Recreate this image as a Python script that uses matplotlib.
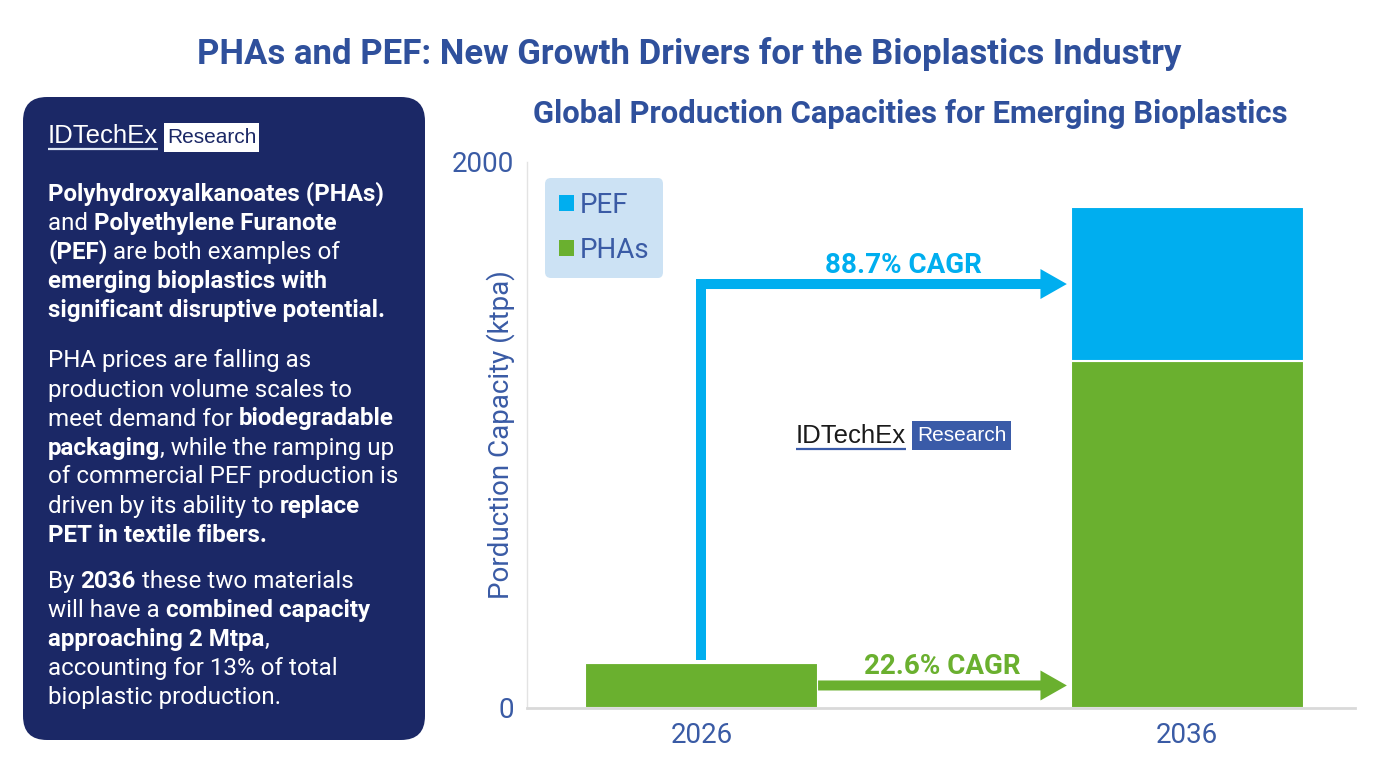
import numpy as np
import matplotlib.pyplot as plt
from matplotlib.patches import FancyBboxPatch, Rectangle, Patch

plt.rcParams['font.family'] = ['Roboto', 'DejaVu Sans']

# --- data ---
years = ["2026", "2036"]
phas = [165, 1271]      # ktpa
pef = [1, 564]          # ktpa
series = ["PHAs", "PEF"]
cagr_pef = "88.7% CAGR"
cagr_phas = "22.6% CAGR"
yticks = [0, 2000]

title = "PHAs and PEF: New Growth Drivers for the Bioplastics Industry"
subtitle = "Global Production Capacities for Emerging Bioplastics"
ylabel = "Porduction Capacity (ktpa)"

# panel text: paragraphs of lines, each line a list of (text, bold)
panel_paragraphs = [
    [
        [("Polyhydroxyalkanoates (PHAs)", True)],
        [("and ", False), ("Polyethylene Furanote", True)],
        [("(PEF)", True), (" are both examples of", False)],
        [("emerging bioplastics with", True)],
        [("significant disruptive potential.", True)],
    ],
    [
        [("PHA prices are falling as", False)],
        [("production volume scales to", False)],
        [("meet demand for ", False), ("biodegradable", True)],
        [("packaging", True), (", while the ramping up", False)],
        [("of commercial PEF production is", False)],
        [("driven by its ability to ", False), ("replace", True)],
        [("PET in textile fibers.", True)],
    ],
    [
        [("By ", False), ("2036", True), (" these two materials", False)],
        [("will have a ", False), ("combined capacity", True)],
        [("approaching 2 Mtpa", True), (",", False)],
        [("accounting for 13% of total", False)],
        [("bioplastic production.", False)],
    ],
]

# --- colours ---
NAVY = "#1B2866"
TITLE_BLUE = "#2F509C"
TEXT_BLUE = "#3A5BA5"
PEF_BLUE = "#00AEEF"
PHA_GREEN = "#6AB02F"
LEGEND_BG = "#CCE2F4"
LOGO_BLUE = "#3A5BA8"

W, H = 1378, 776
fig = plt.figure(figsize=(W / 100, H / 100), dpi=100)

# --- chart ---
ax = fig.add_axes([527 / W, 1 - 708 / H, 828 / W, 546 / H])
x = np.arange(len(years))
bw = 0.48
ax.bar(x, phas, bw, color=PHA_GREEN, edgecolor="white", linewidth=1.5)
ax.bar(x, pef, bw, bottom=phas, color=PEF_BLUE, edgecolor="white", linewidth=1.5)

ax.set_xlim(-0.359, 1.345)
ax.set_ylim(0, 2000)
ax.set_yticks(yticks)
ax.set_xticks(x, years)
ax.tick_params(length=0, labelsize=20, labelcolor=TEXT_BLUE)
ax.tick_params(axis="y", pad=9)
ax.tick_params(axis="x", pad=10)
for side in ["top", "right"]:
    ax.spines[side].set_visible(False)
ax.spines["left"].set_color("#E3E3E3")
ax.spines["left"].set_linewidth(1)
ax.spines["bottom"].set_color("#D9D9D9")
ax.spines["bottom"].set_linewidth(2)
ax.set_ylabel(ylabel, fontsize=20, color=TEXT_BLUE)
ax.yaxis.set_label_coords(-0.015, 0.5)

handles = [Patch(facecolor=PEF_BLUE), Patch(facecolor=PHA_GREEN)]
leg = ax.legend(handles, [series[1], series[0]], loc="upper left",
                bbox_to_anchor=(18 / 828, 1 - 16 / 546), borderaxespad=0,
                fontsize=20, labelcolor=TEXT_BLUE, handlelength=0.55, handleheight=0.55,
                handletextpad=0.2, labelspacing=0.65, borderpad=0.5,
                facecolor=LEGEND_BG, edgecolor="none", framealpha=1, fancybox=True)

# arrows
tip = x[1] - bw / 2 - 0.008
lw_pt = 7.2
style = "simple,head_length=19,head_width=21.6,tail_width=7.2"

y_g = phas[0] / 2
ax.annotate("", xy=(tip, y_g), xytext=(x[0] + bw / 2, y_g),
            arrowprops=dict(arrowstyle=style, mutation_scale=1, color=PHA_GREEN, lw=0,
                            shrinkA=0, shrinkB=0))
ax.annotate(cagr_phas, xy=((x[0] + bw / 2 + tip) / 2, y_g), xytext=(0, 8),
            textcoords="offset points", ha="center", va="baseline",
            fontsize=20, fontweight="bold", color=PHA_GREEN)

y_b = phas[1] + pef[1] / 2
ax.plot([x[0], x[0], tip - 0.1], [phas[0] + 12, y_b, y_b], color=PEF_BLUE, lw=lw_pt,
        solid_joinstyle="miter", solid_capstyle="butt")
ax.annotate("", xy=(tip, y_b), xytext=(x[0], y_b),
            arrowprops=dict(arrowstyle=style, mutation_scale=1, color=PEF_BLUE, lw=0,
                            shrinkA=0, shrinkB=0))
ax.annotate(cagr_pef, xy=(0.415, y_b), xytext=(0, 8),
            textcoords="offset points", ha="center", va="baseline",
            fontsize=20, fontweight="bold", color=PEF_BLUE)

# --- overlay in pixel coordinates ---
ov = fig.add_axes([0, 0, 1, 1])
ov.set_xlim(0, W)
ov.set_ylim(H, 0)
ov.axis("off")
rend = fig.canvas.get_renderer()


def text_width(s, **kw):
    t = ov.text(0, 0, s + ".", **kw)
    w1 = t.get_window_extent(rend).width
    t.set_text(".")
    w2 = t.get_window_extent(rend).width
    t.remove()
    return w1 - w2


ov.text(689, 64, title, ha="center", va="baseline", fontsize=25,
        fontweight="bold", color=TITLE_BLUE)
ov.text(910, 123, subtitle, ha="center", va="baseline", fontsize=22.3,
        fontweight="bold", color=TITLE_BLUE)

# left panel
ov.add_patch(FancyBboxPatch((23, 97), 402, 643, boxstyle="round,pad=0,rounding_size=24",
                            facecolor=NAVY, edgecolor="none"))

para_starts = [201, 367.5, 588]
line_gap = 29
fs = 17.4
for start, para in zip(para_starts, panel_paragraphs):
    for i, runs in enumerate(para):
        xx = 48
        yy = start + i * line_gap
        for s, bold in runs:
            kw = dict(fontsize=fs, fontweight="bold" if bold else "normal", color="white")
            ov.text(xx, yy, s, va="baseline", ha="left", **kw)
            xx += text_width(s, **kw)


def logo(x0, base, id_color, ul_color, box_color, r_color, box_top, box_w):
    kw = dict(fontsize=18.5, family="Liberation Sans", color=id_color)
    ov.text(x0, base, "IDTechEx", va="baseline", ha="left", **kw)
    w = text_width("IDTechEx", **kw)
    ov.plot([x0, x0 + w], [base + 6, base + 6], color=ul_color, lw=1.6, solid_capstyle="butt")
    bx = x0 + w + 6
    ov.add_patch(Rectangle((bx, box_top), box_w, 29, facecolor=box_color, edgecolor="none"))
    ov.text(bx + box_w / 2, box_top + 14.5, "Research", ha="center", va="center",
            fontsize=15, family="Liberation Sans", color=r_color)


logo(48, 143, "white", "#DDE6F5", "white", NAVY, 123, 95)
logo(796, 443, "#1A1A1A", LOGO_BLUE, LOGO_BLUE, "white", 421, 99)

fig.savefig("out.png", dpi=100)
